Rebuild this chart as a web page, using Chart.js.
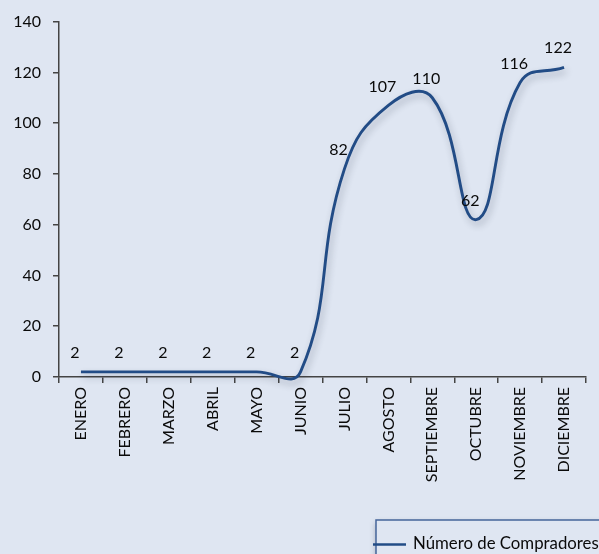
<!DOCTYPE html>
<html>
<head>
<meta charset="utf-8">
<script src="https://cdn.jsdelivr.net/npm/chart.js@4.4.1/dist/chart.umd.min.js"></script>
<style>
  html, body { margin: 0; padding: 0; background: #DFE6F2; }
  #wrap { width: 599px; height: 554px; position: relative; }
</style>
</head>
<body>
<div id="wrap"><canvas id="c" width="599" height="554"></canvas></div>
<script>
const months = ['ENERO','FEBRERO','MARZO','ABRIL','MAYO','JUNIO','JULIO','AGOSTO','SEPTIEMBRE','OCTUBRE','NOVIEMBRE','DICIEMBRE'];
const compradores = [2, 2, 2, 2, 2, 2, 82, 107, 110, 62, 116, 122];
const seriesName = 'Número de Compradores';
const yTicks = [0, 20, 40, 60, 80, 100, 120, 140];

const BG = '#DFE6F2';
const LINE = '#224C86';
const FONT = 'Lato, "Liberation Sans", sans-serif';
const TXT = '#0a0a0a';

const bgPlugin = {
  id: 'bg',
  beforeDraw(chart) {
    const ctx = chart.ctx;
    ctx.save();
    ctx.fillStyle = BG;
    ctx.fillRect(0, 0, chart.width, chart.height);
    ctx.restore();
  }
};

const shadowPlugin = {
  id: 'lineShadow',
  beforeDatasetDraw(chart) {
    const ctx = chart.ctx;
    ctx.save();
    ctx.shadowColor = 'rgba(40,50,70,0.32)';
    ctx.shadowBlur = 7;
    ctx.shadowOffsetX = 2;
    ctx.shadowOffsetY = 4;
  },
  afterDatasetDraw(chart) {
    chart.ctx.restore();
  }
};

const labelPlugin = {
  id: 'valueLabels',
  afterDatasetsDraw(chart) {
    const ctx = chart.ctx;
    const meta = chart.getDatasetMeta(0);
    const data = chart.data.datasets[0].data;
    ctx.save();
    ctx.font = '16px ' + FONT;
    ctx.fillStyle = TXT;
    ctx.textAlign = 'center';
    ctx.textBaseline = 'middle';
    meta.data.forEach((pt, i) => {
      ctx.fillText(String(data[i]), pt.x - 6, pt.y - 19);
    });
    ctx.restore();
  }
};

const legendPlugin = {
  id: 'customLegend',
  afterDraw(chart) {
    const ctx = chart.ctx;
    const x = 376, y = 520;
    ctx.save();
    ctx.shadowColor = 'rgba(40,50,70,0.35)';
    ctx.shadowBlur = 6;
    ctx.shadowOffsetY = 3;
    ctx.fillStyle = BG;
    ctx.fillRect(x, y, 260, 60);
    ctx.shadowColor = 'transparent';
    ctx.strokeStyle = '#45659A';
    ctx.lineWidth = 1.5;
    ctx.strokeRect(x, y, 260, 60);
    ctx.strokeStyle = LINE;
    ctx.lineWidth = 2.5;
    ctx.beginPath();
    ctx.moveTo(373, 544.5);
    ctx.lineTo(406, 544.5);
    ctx.stroke();
    ctx.fillStyle = TXT;
    ctx.font = '16.8px ' + FONT;
    ctx.textBaseline = 'middle';
    ctx.textAlign = 'left';
    ctx.fillText(chart.data.datasets[0].label, 413, 544);
    ctx.restore();
  }
};

new Chart(document.getElementById('c'), {
  type: 'line',
  data: {
    labels: months,
    datasets: [{
      label: seriesName,
      data: compradores,
      borderColor: LINE,
      borderWidth: 2.9,
      pointRadius: 0,
      pointHoverRadius: 0,
      tension: 0.45,
      fill: false,
      clip: false
    }]
  },
  options: {
    responsive: false,
    animation: false,
    events: [],
    layout: { padding: { top: 21, right: 13, left: 0, bottom: 0 } },
    elements: { line: { capBezierPoints: false } },
    plugins: { legend: { display: false }, tooltip: { enabled: false } },
    scales: {
      x: {
        offset: true,
        grid: { display: true, drawOnChartArea: false, tickLength: 6, color: '#444', lineWidth: 1.5, offset: true },
        border: { display: true, color: '#444', width: 1.5 },
        ticks: {
          autoSkip: false, maxRotation: 90, minRotation: 90, padding: 4,
          color: TXT, font: { family: FONT, size: 16 }
        },
        afterFit(scale) { scale.height = 177; }
      },
      y: {
        min: 0, max: 140,
        afterBuildTicks(scale) { scale.ticks = yTicks.map(v => ({ value: v })); },
        grid: { display: true, drawOnChartArea: false, tickLength: 6, color: '#444', lineWidth: 1.5 },
        border: { display: true, color: '#444', width: 1.5 },
        ticks: { padding: 12, color: TXT, font: { family: FONT, size: 16 } },
        afterFit(scale) { scale.width = 59; }
      }
    }
  },
  plugins: [bgPlugin, shadowPlugin, labelPlugin, legendPlugin]
});
</script>
</body>
</html>
